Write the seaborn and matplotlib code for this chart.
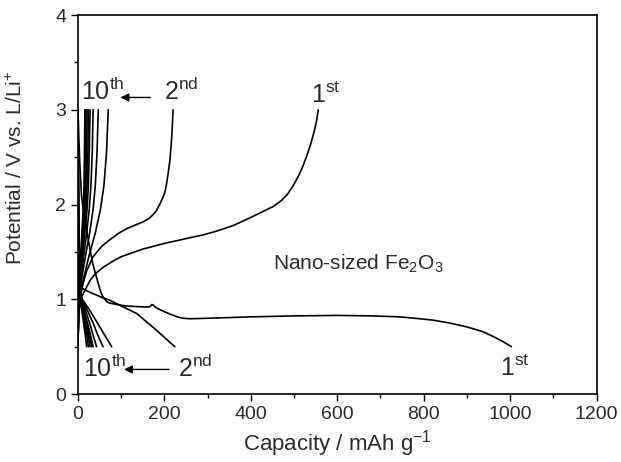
import numpy as np
import pandas as pd
import matplotlib
matplotlib.use("Agg")
import matplotlib.pyplot as plt
from matplotlib.ticker import MultipleLocator
import seaborn as sns

# discharge curves (capacity mAh/g, potential V)
d1_cap = [0, 1, 2, 4, 8, 12, 16, 22, 28, 34, 40, 46, 51, 56, 62, 68, 74, 90, 110, 150, 166, 171, 174, 178,
          190, 200, 215, 230, 243, 260, 300, 400, 500, 600, 680, 744, 780, 822, 860, 899, 936, 960, 985, 1003]
d1_v = [3.0, 2.85, 2.7, 2.45, 2.1, 1.95, 1.85, 1.68, 1.52, 1.38, 1.28, 1.18, 1.10, 1.04, 1.0, 0.97, 0.96, 0.945, 0.93, 0.92, 0.92, 0.945, 0.94, 0.92,
        0.89, 0.87, 0.84, 0.815, 0.80, 0.795, 0.80, 0.815, 0.825, 0.83, 0.825, 0.815, 0.80, 0.78, 0.75, 0.71, 0.66, 0.61, 0.55, 0.50]
d2_cap = [0, 0.5, 1, 2, 3, 5, 8.5, 20, 35, 55, 74, 100, 136, 180, 224]
d2_v = [3.0, 2.6, 2.2, 1.7, 1.4, 1.2, 1.12, 1.09, 1.06, 1.02, 0.99, 0.93, 0.85, 0.68, 0.50]
d_late_v = [3.0, 1.85, 1.1, 1.0, 0.9, 0.75, 0.62, 0.5]
d3_cap = [0, 1, 3, 10, 25, 45, 62, 78]
d4_cap = [0, 1, 3, 8, 20, 35, 46, 58]
d5_cap = [0, 1, 2.5, 7, 16, 27, 35, 43]
d6_cap = [0, 1, 2.5, 6, 13, 22, 29, 35]
d7_cap = [0, 1, 2.5, 6, 12, 20, 26, 32]
d8_cap = [0, 1, 2, 5, 10, 17, 23, 28]
d9_cap = [0, 1, 2, 5, 9, 15, 20, 24]
d10_cap = [0, 1, 2, 4, 8, 13, 17, 20]

# charge curves
c1_cap = [0, 1, 3, 6, 12, 20, 28, 40, 59, 80, 100, 125, 150, 175, 200, 230, 259, 290, 321, 360, 398, 425,
          452, 470, 485, 498, 510, 520, 530, 538, 546, 552, 556]
c1_v = [0.5, 0.75, 0.92, 1.0, 1.06, 1.13, 1.20, 1.27, 1.34, 1.40, 1.45, 1.49, 1.53, 1.56, 1.59, 1.62, 1.65, 1.68, 1.72, 1.78, 1.86, 1.92,
        1.98, 2.04, 2.11, 2.20, 2.30, 2.40, 2.52, 2.63, 2.76, 2.88, 3.0]
c2_cap = [0, 1, 2, 4, 8, 12, 20, 35, 55, 74, 95, 115, 136, 152, 166, 175, 182, 190, 197, 201, 205, 209, 213, 216, 218, 220]
c2_v = [0.5, 0.8, 0.92, 1.0, 1.09, 1.17, 1.30, 1.45, 1.56, 1.63, 1.70, 1.75, 1.79, 1.82, 1.86, 1.90, 1.94, 2.01, 2.08, 2.13, 2.22, 2.34, 2.48, 2.65, 2.80, 3.0]
c_late_v = [0.5, 0.85, 1.0, 1.2, 1.45, 1.7, 1.95, 2.2, 2.55, 3.0]
c3_cap = [0, 1, 4, 12, 25, 40, 52, 60, 66, 70]
c4_cap = [0, 1, 3, 8, 17, 27, 35, 40, 44, 47]
c5_cap = [0, 1, 2.5, 6, 13, 20, 26, 30, 33, 35]
c6_cap = [0, 1, 2, 5, 10, 16, 21, 24, 26, 28]
c7_cap = [0, 1, 2, 4, 9, 14, 18, 21, 23, 24]
c8_cap = [0, 1, 2, 4, 8, 12, 16, 18, 20, 21]
c9_cap = [0, 1, 2, 3.5, 7, 10, 13.5, 15.5, 17, 18]
c10_cap = [0, 1, 2, 3, 6, 9, 12, 14, 15, 16]

curves = {
    "d1": (d1_cap, d1_v), "d2": (d2_cap, d2_v),
    "d3": (d3_cap, d_late_v), "d4": (d4_cap, d_late_v), "d5": (d5_cap, d_late_v),
    "d6": (d6_cap, d_late_v), "d7": (d7_cap, d_late_v), "d8": (d8_cap, d_late_v),
    "d9": (d9_cap, d_late_v), "d10": (d10_cap, d_late_v),
    "c1": (c1_cap, c1_v), "c2": (c2_cap, c2_v),
    "c3": (c3_cap, c_late_v), "c4": (c4_cap, c_late_v), "c5": (c5_cap, c_late_v),
    "c6": (c6_cap, c_late_v), "c7": (c7_cap, c_late_v), "c8": (c8_cap, c_late_v),
    "c9": (c9_cap, c_late_v), "c10": (c10_cap, c_late_v),
}
frames = []
for name, (cap, v) in curves.items():
    frames.append(pd.DataFrame({"cap": cap, "v": v, "curve": name}))
df = pd.concat(frames, ignore_index=True)

sns.set_style("ticks")
plt.rcParams['font.family'] = ['Liberation Sans', 'DejaVu Sans']
plt.rcParams['mathtext.default'] = 'regular'

grey = '#2b2b2b'
fig = plt.figure(figsize=(6.21, 4.62), dpi=100)
ax = fig.add_axes([0.1256, 0.147, 0.835, 0.8205])

sns.lineplot(data=df, x="cap", y="v", units="curve", estimator=None, sort=False,
             color="black", lw=1.2, ax=ax)

ax.set_xlim(0, 1200)
ax.set_ylim(0, 4)
ax.xaxis.set_major_locator(MultipleLocator(200))
ax.xaxis.set_minor_locator(MultipleLocator(100))
ax.yaxis.set_major_locator(MultipleLocator(1))
ax.yaxis.set_minor_locator(MultipleLocator(0.5))
ax.tick_params(which='major', direction='out', length=5, width=1, labelsize=14,
               color='black', labelcolor=grey)
ax.tick_params(which='minor', direction='out', length=3, width=1, color='black')
for s in ax.spines.values():
    s.set_linewidth(1.2)
    s.set_color('black')

ax.set_xlabel("Capacity / mAh g$^{-1}$", fontsize=16, color=grey)
ax.set_ylabel("Potential / V vs. L/Li$^{+}$", fontsize=15, color=grey)
ax.yaxis.set_label_coords(-0.1, 0.596)

fs = 18
ax.text(8, 3.10, "10$^{th}$", fontsize=fs, ha='left', va='baseline', color=grey)
ax.text(199, 3.10, "2$^{nd}$", fontsize=fs, ha='left', va='baseline', color=grey)
ax.annotate("", xy=(92, 3.13), xytext=(174, 3.13),
            arrowprops=dict(arrowstyle='-|>', color='black', lw=1, mutation_scale=12))
ax.text(540, 3.07, "1$^{st}$", fontsize=fs, ha='left', va='baseline', color=grey)

ax.text(12, 0.18, "10$^{th}$", fontsize=fs, ha='left', va='baseline', color=grey)
ax.text(231, 0.18, "2$^{nd}$", fontsize=fs, ha='left', va='baseline', color=grey)
ax.annotate("", xy=(100, 0.26), xytext=(217, 0.26),
            arrowprops=dict(arrowstyle='-|>', color='black', lw=1, mutation_scale=12))
ax.text(976, 0.19, "1$^{st}$", fontsize=fs, ha='left', va='baseline', color=grey)

ax.text(451, 1.31, "Nano-sized Fe$_2$O$_3$", fontsize=15, ha='left', va='baseline', color=grey)

fig.savefig("out.png", dpi=100)
